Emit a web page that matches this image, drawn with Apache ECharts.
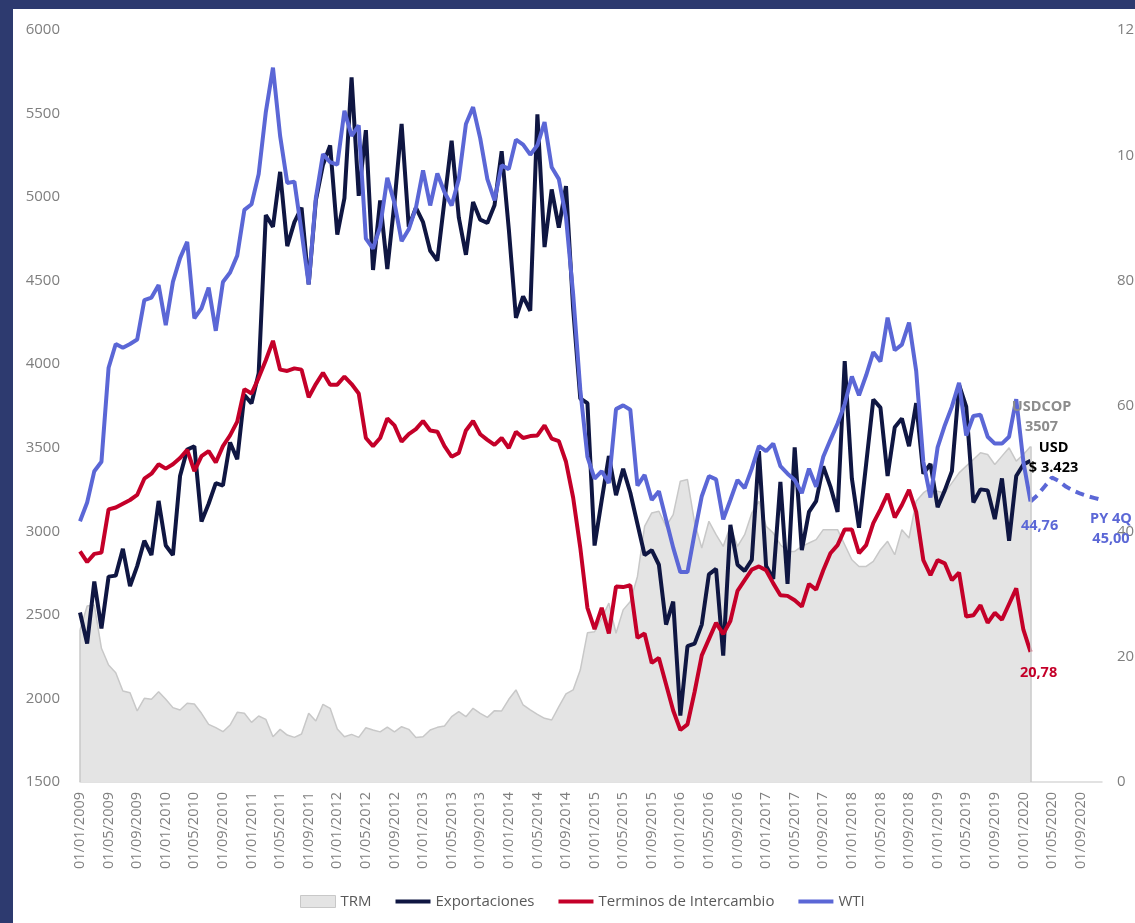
<!DOCTYPE html>
<html lang="es">
<head>
<meta charset="utf-8">
<title>TRM, Exportaciones, Terminos de Intercambio y WTI</title>
<script src="https://cdn.jsdelivr.net/npm/echarts@6/dist/echarts.min.js"></script>
<style>
  html, body { margin: 0; height: 100%; overflow: hidden; background: #2d3a6f; }
  #grafico { position: absolute; left: 13px; top: 9px; width: 1160px; height: 914px; background: #ffffff; }
</style>
</head>
<body>
<div id="grafico"></div>
<script>
const anios = [2009, 2010, 2011, 2012, 2013, 2014, 2015, 2016, 2017, 2018, 2019, 2020];
const meses = ["01", "02", "03", "04", "05", "06", "07", "08", "09", "10", "11", "12"];

// TRM (COP por USD), eje izquierdo
const trm = [
  2410, 2553, 2559, 2300, 2200, 2154, 2045, 2034, 1925, 2001,
  1995, 2040, 1995, 1945, 1931, 1971, 1967, 1911, 1845, 1825,
  1801, 1841, 1917, 1911, 1857, 1895, 1875, 1771, 1815, 1781,
  1767, 1787, 1911, 1865, 1965, 1941, 1817, 1771, 1785, 1767,
  1825, 1811, 1800, 1829, 1800, 1831, 1815, 1767, 1771, 1811,
  1827, 1835, 1891, 1921, 1891, 1941, 1911, 1887, 1927, 1925,
  1995, 2051, 1961, 1931, 1905, 1881, 1871, 1951, 2027, 2051,
  2170, 2393, 2399, 2480, 2570, 2390, 2530, 2580, 2730, 3030,
  3110, 3120, 3030, 3100, 3300, 3310, 3050, 2900, 3060, 2980,
  2910, 3030, 2910, 2980, 3110, 3180, 3030, 2990, 2920, 2880,
  2880, 2910, 2930, 2950, 3010, 3010, 3010, 2920, 2830, 2790,
  2790, 2820, 2890, 2940, 2860, 3010, 2960, 3180, 3230, 3260,
  3240, 3230, 3290, 3350, 3390, 3430, 3470, 3460, 3400, 3450,
  3500, 3420, 3460, 3507
];

// Exportaciones (millones de USD), eje izquierdo
const exportaciones = [
  2514, 2328, 2700, 2419, 2729, 2735, 2895, 2672, 2792, 2944,
  2858, 3182, 2915, 2858, 3331, 3489, 3509, 3059, 3165, 3288,
  3274, 3532, 3431, 3816, 3766, 3946, 4893, 4822, 5151, 4707,
  4850, 4937, 4478, 4980, 5194, 5309, 4776, 4994, 5716, 5008,
  5401, 4564, 4980, 4570, 4966, 5438, 4822, 4937, 4850, 4679,
  4621, 4980, 5338, 4879, 4655, 4971, 4865, 4845, 4951, 5275,
  4808, 4277, 4406, 4320, 5495, 4701, 5046, 4817, 5066, 4335,
  3795, 3767, 2915, 3187, 3451, 3216, 3374, 3231, 3044, 2858,
  2887, 2800, 2442, 2580, 1897, 2313, 2328, 2442, 2743, 2775,
  2256, 3039, 2800, 2763, 2829, 3480, 2792, 2715, 3296, 2686,
  3503, 2887, 3116, 3181, 3389, 3268, 3116, 4019, 3317, 3021,
  3403, 3789, 3740, 3331, 3623, 3675, 3509, 3767, 3345, 3403,
  3144, 3245, 3360, 3876, 3746, 3173, 3251, 3245, 3073, 3317,
  2944, 3331, 3400, 3423
];

// Terminos de intercambio, eje derecho
const terminos = [
  36.8, 35.1, 36.4, 36.6, 43.5, 43.8, 44.4, 45.0, 45.8, 48.4,
  49.2, 50.7, 50.0, 50.7, 51.7, 53.0, 49.6, 52.0, 52.8, 51.0,
  53.6, 55.3, 57.5, 62.7, 62.0, 64.5, 67.3, 70.4, 65.8, 65.6,
  66.0, 65.8, 61.4, 63.5, 65.3, 63.4, 63.4, 64.7, 63.5, 62.0,
  54.9, 53.6, 54.9, 58.0, 56.9, 54.3, 55.5, 56.3, 57.6, 56.1,
  55.9, 53.6, 51.9, 52.5, 56.1, 57.6, 55.5, 54.6, 53.8, 54.9,
  53.3, 55.9, 54.9, 55.2, 55.3, 56.9, 54.8, 54.4, 51.1, 45.4,
  37.4, 27.8, 24.4, 27.8, 23.7, 31.2, 31.1, 31.4, 23.0, 23.7,
  19.0, 19.8, 15.6, 11.4, 8.3, 9.2, 14.4, 20.2, 22.8, 25.4,
  23.6, 25.7, 30.5, 32.2, 33.9, 34.4, 33.8, 31.7, 29.8, 29.7,
  29.0, 28.0, 31.6, 30.7, 33.8, 36.5, 37.8, 40.3, 40.3, 36.5,
  37.8, 41.3, 43.5, 46.0, 42.2, 44.2, 46.6, 43.1, 35.4, 33.0,
  35.4, 34.9, 32.2, 33.4, 26.4, 26.6, 28.2, 25.4, 27.0, 25.9,
  28.4, 30.9, 24.3, 20.78
];

// WTI (USD por barril), eje derecho
const wti = [
  41.6, 44.6, 49.6, 51.1, 66.1, 69.9, 69.3, 69.9, 70.6, 76.9,
  77.3, 79.3, 72.9, 79.8, 83.6, 86.2, 74.0, 75.6, 78.9, 72.0,
  79.8, 81.3, 84.0, 91.3, 92.2, 97.0, 106.9, 114.0, 103.1, 95.6,
  95.8, 87.8, 79.4, 93.2, 100.2, 98.9, 98.5, 107.1, 103.1, 104.8,
  86.7, 85.1, 88.6, 96.4, 92.4, 86.3, 88.2, 91.6, 97.6, 92.0,
  97.1, 94.1, 92.0, 96.2, 105.0, 107.7, 102.7, 96.2, 92.8, 98.4,
  97.8, 102.5, 101.7, 100.1, 101.6, 105.3, 98.1, 96.2, 90.1, 77.9,
  62.6, 51.9, 48.4, 49.6, 47.7, 59.5, 60.1, 59.4, 47.3, 49.0,
  45.0, 46.4, 41.9, 37.4, 33.5, 33.5, 39.7, 45.6, 48.8, 48.3,
  41.9, 45.0, 48.2, 46.9, 50.0, 53.6, 52.8, 54.0, 50.4, 49.2,
  48.2, 46.1, 50.0, 47.1, 51.9, 54.6, 57.2, 60.3, 64.7, 61.7,
  64.9, 68.6, 67.1, 74.1, 68.9, 69.8, 73.3, 65.6, 51.1, 45.4,
  53.4, 56.9, 59.9, 63.7, 55.3, 58.4, 58.6, 55.1, 54.0, 54.0,
  55.1, 61.1, 51.1, 44.76
];

// proyeccion WTI desde 01/02/2020 hasta 01/12/2020
const wtiProyeccion = [44.76, 45.8, 47.2, 48.6, 48.0, 47.1, 46.5, 46.0, 45.6, 45.3, 45.0];

const fechas = [];
anios.forEach(anio => {
  meses.forEach(mes => fechas.push(`01/${mes}/${anio}`));
});

const ultimo = trm.length - 1;
const inicioProyeccion = fechas.length - wtiProyeccion.length;
const serieProyeccion = new Array(inicioProyeccion).fill(null).concat(wtiProyeccion);

const colorEje = "#7f7f7f";
const azul = "#5b67d6";
const rojo = "#c40029";
const marino = "#0f1642";
const grosor = 4;

function miles(valor) {
  return String(valor).replace(/\B(?=(\d{3})+(?!\d))/g, ".");
}

function coma(valor) {
  return valor.toFixed(2).replace(".", ",");
}

function etiquetaFinal(indice, valor, texto, color, desplazamiento) {
  return {
    symbol: "circle",
    symbolSize: 1,
    silent: true,
    itemStyle: { color: "rgba(0,0,0,0)" },
    label: {
      show: true,
      position: "inside",
      offset: desplazamiento,
      color: color,
      fontWeight: "bold",
      fontSize: 14.5,
      lineHeight: 20,
      formatter: texto
    },
    data: [{ coord: [fechas[indice], valor], value: valor }]
  };
}

// icono de linea gruesa para la leyenda
function itemLeyenda(nombre, color) {
  return {
    name: nombre,
    icon: "path://M0,0H35V4H0Z",
    itemStyle: { color: color },
    lineStyle: { width: grosor, color: color }
  };
}

const grafico = echarts.init(document.getElementById("grafico"));

grafico.setOption({
  animation: false,
  textStyle: { fontFamily: "'Open Sans', sans-serif" },
  grid: { left: 67, right: 71, top: 21, bottom: 141 },
  legend: {
    left: 282,
    top: 880,
    itemWidth: 35,
    itemHeight: 12,
    itemGap: 24,
    textStyle: { color: "#595959", fontSize: 15 },
    data: [
      { name: "TRM", icon: "rect", itemStyle: { color: "#e4e4e4", borderColor: "#c8c8c8", borderWidth: 1 } },
      itemLeyenda("Exportaciones", marino),
      itemLeyenda("Terminos de Intercambio", rojo),
      itemLeyenda("WTI", azul)
    ]
  },
  xAxis: {
    type: "category",
    data: fechas,
    boundaryGap: false,
    axisLine: { lineStyle: { color: "#d9d9d9", width: 1.5 } },
    axisTick: { show: false },
    axisLabel: { interval: 3, rotate: 90, margin: 10, color: colorEje, fontSize: 14.5 }
  },
  yAxis: [
    {
      type: "value",
      min: 1500,
      max: 6000,
      interval: 500,
      axisLine: { show: false },
      axisTick: { show: false },
      splitLine: { show: false },
      axisLabel: { margin: 20, color: colorEje, fontSize: 15, formatter: v => String(v) }
    },
    {
      type: "value",
      min: 0,
      max: 120,
      interval: 20,
      position: "right",
      axisLine: { show: false },
      axisTick: { show: false },
      splitLine: { show: false },
      axisLabel: { margin: 15, color: colorEje, fontSize: 15, formatter: v => String(v) }
    }
  ],
  series: [
    {
      name: "TRM",
      type: "line",
      yAxisIndex: 0,
      data: trm,
      symbol: "none",
      itemStyle: { color: "#e4e4e4" },
      lineStyle: { color: "#c8c8c8", width: 1.5 },
      areaStyle: { color: "#e4e4e4", origin: "start", opacity: 1 },
      markLine: {
        silent: true,
        symbol: "none",
        label: { show: false },
        lineStyle: { color: "#c8c8c8", width: 1.5, type: "solid" },
        data: [
          [{ coord: [fechas[0], 1500] }, { coord: [fechas[0], trm[0]] }],
          [{ coord: [fechas[ultimo], 1500] }, { coord: [fechas[ultimo], trm[ultimo]] }]
        ]
      },
      markPoint: etiquetaFinal(ultimo, trm[ultimo], p => `USDCOP\n${p.value}`, "#8c8c8c", [11, -30])
    },
    {
      name: "Exportaciones",
      type: "line",
      yAxisIndex: 0,
      data: exportaciones,
      symbol: "none",
      itemStyle: { color: marino },
      lineStyle: { color: marino, width: grosor },
      markPoint: etiquetaFinal(ultimo, exportaciones[ultimo], p => `USD\n$ ${miles(p.value)}`, "#000000", [23, -3])
    },
    {
      name: "Terminos de Intercambio",
      type: "line",
      yAxisIndex: 1,
      data: terminos,
      symbol: "none",
      itemStyle: { color: rojo },
      lineStyle: { color: rojo, width: grosor },
      markPoint: etiquetaFinal(ultimo, terminos[ultimo], p => coma(p.value), rojo, [8, 21])
    },
    {
      name: "WTI",
      type: "line",
      yAxisIndex: 1,
      data: wti,
      symbol: "none",
      itemStyle: { color: azul },
      lineStyle: { color: azul, width: grosor },
      markPoint: etiquetaFinal(ultimo, wti[ultimo], p => coma(p.value), azul, [9, 24])
    },
    {
      name: "WTI PY 4Q",
      type: "line",
      yAxisIndex: 1,
      data: serieProyeccion,
      symbol: "none",
      itemStyle: { color: azul },
      lineStyle: { color: azul, width: grosor, type: [9, 6] },
      markPoint: etiquetaFinal(fechas.length - 1, wtiProyeccion[wtiProyeccion.length - 1], p => `PY 4Q\n${coma(p.value)}`, azul, [9, 29])
    }
  ]
});

window.addEventListener("resize", () => {
  grafico.resize();
});
</script>
</body>
</html>
